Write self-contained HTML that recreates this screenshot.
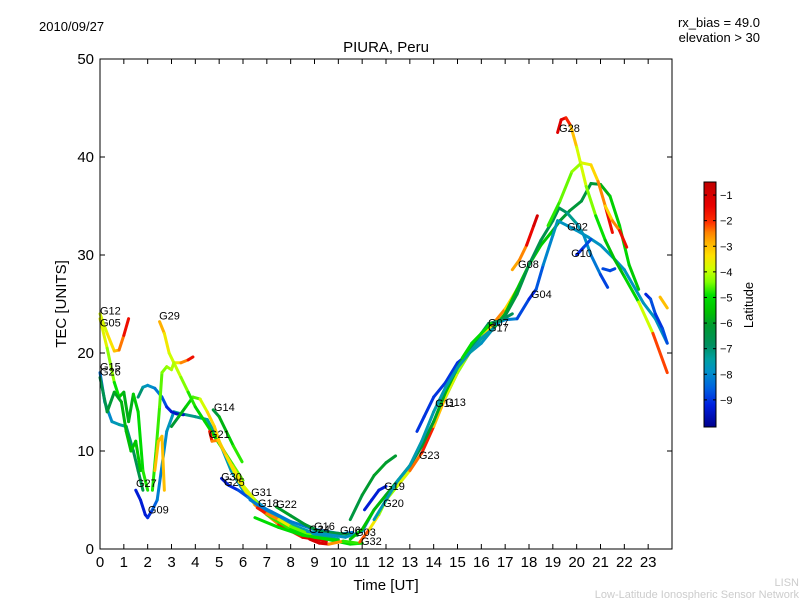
<!DOCTYPE html>
<html><head><meta charset="utf-8"><style>
body{margin:0;background:#fff}
svg text{font-family:"Liberation Sans","DejaVu Sans",sans-serif}
</style></head><body>
<svg id="chart" width="800" height="600" xmlns="http://www.w3.org/2000/svg">
<rect width="800" height="600" fill="#fff"/>
<text x="39" y="31" font-size="13">2010/09/27</text>
<text x="760" y="27" font-size="13" text-anchor="end">rx_bias = 49.0</text>
<text x="760" y="42" font-size="13" text-anchor="end">elevation &gt; 30</text>
<text x="386" y="52" font-size="15" text-anchor="middle">PIURA, Peru</text>
<text x="386" y="590" font-size="15" text-anchor="middle">Time [UT]</text>
<text x="66" y="304" font-size="15" text-anchor="middle" transform="rotate(-90 66 304)">TEC [UNITS]</text>
<text x="799" y="586" font-size="11" fill="#ccc" text-anchor="end">LISN</text>
<text x="799" y="598" font-size="11" fill="#ccc" text-anchor="end">Low-Latitude Ionospheric Sensor Network</text>
<g id="plot"></g>
<g id="axes"></g>
<g id="cbar"></g>
</svg>
<script>
const xTicks=[0,1,2,3,4,5,6,7,8,9,10,11,12,13,14,15,16,17,18,19,20,21,22,23];
const yTicks=[0,10,20,30,40,50];
const cbTicks=[-1,-2,-3,-4,-5,-6,-7,-8,-9];
const trackHours=[
[0,0.3,0.6,0.8,1.0,1.2],
[0,0.3,0.6,0.8,1.0,1.2,1.4,1.6,1.8,2.0],
[0,0.2,0.5,0.8,1.1,1.4,1.6,1.8],
[0,0.3,0.6,0.9,1.1,1.3,1.5,1.7],
[1.5,1.7,1.9,2.0,2.2,2.4,2.6,2.8,3.1,3.4,4.0,4.5,5.0,5.5,6.0,7,8,9,10],
[1.6,1.8,2.0,2.3,2.6,2.8,3.0,3.2,3.5],
[3.0,3.3,3.6,3.9,4.2,4.5,4.8,5.0,5.4,5.8,6.5,7.5,8.5,9.5],
[2.5,2.7,2.9,3.1,3.4,3.7,3.9],
[3.1,3.4,3.7,4.0,4.4,4.8,5.2,5.6,6.0],
[2.2,2.35,2.5,2.6,2.8,3.0,3.1],
[2.3,2.45,2.6,2.7],
[4.75,5.0,5.3,5.6,5.96],
[4.6,4.7,4.95,5.3,5.66,6,6.5,7,8,9,10],
[5.1,5.4,5.8,6.2,6.6,7,8,9,10,10.6],
[6.3,6.7,7.2,8,9,10],
[6.6,7.0,7.5,8,8.8],
[7.4,8,8.6,9.2,10,10.8],
[6.5,7.5,8.5,9.5,10.5,11],
[8.8,9.2,9.6,10.2,10.8],
[8.7,9.5,10.3,11,11.5,12,12.5,13,13.5,14,14.5,15,15.5,16,16.5],
[10.9,11.3,11.7,12,12.5,13,13.5,14,14.5,15,15.5,16,16.5,17,17.5],
[11.1,11.4,11.7,12],
[13.3,13.6,14,14.5,15,15.5],
[10.5,11,11.5,12,12.5,13,13.5,14,14.5,15,15.5,16,16.5,17,17.5,18,18.5,19,19.3,19.7,20.2,20.6,21,21.4,21.8,22.2,22.6],
[10.5,11,11.5,12,12.4],
[16.5,17,17.5,18,18.5,19,19.26,19.6,20,20.3,20.6,21,21.3],
[19.2,19.6,20,20.5,21,21.5,22,22.8,23.3,23.8],
[16.6,17,17.5,18,18.3,18.6,19,19.2],
[17.3,17.6,17.9,18.2,18.35],
[19.2,19.35,19.55,19.75,20,20.4,20.8,21.2,21.6,22,22.6,23.2,23.8],
[18.8,19.3,19.8,20.2,20.6,20.9,21.2,21.5],
[21.2,21.5,21.8,22.1],
[20,20.3,20.6],
[21.1,21.4,21.6],
[22.9,23.1,23.3,23.6,23.8],
[23.5,23.8],
[11.5,12,12.5,13,13.5,14,14.5,15,15.5,16,16.5],
[15.5,16,16.3,16.8,17.3],
[15.2,15.6,16,16.4]
];
const trackTec=[
[24,22,20.2,20.3,21.8,23.5],
[23.5,20.5,17,15.5,16,13,15.8,14,8,6],
[18,15,13,12.7,12.5,10,8,6],
[17.5,14,16,15,12,10,11,8],
[6,5,3.5,3.2,4,5,8.5,12,14,13.8,13.5,13.2,11,8,6,4,2.5,1.5,1],
[15.5,16.5,16.7,16.4,15.5,14.5,14,13.8,13.7],
[12.5,13.5,14.5,15.5,15.3,14,12.5,11,9,7,4.5,2.5,1.2,0.8],
[23.2,22,20,19,19,19.3,19.6],
[19,17.5,16,14.5,13,11.5,10,8.5,7],
[6,10,14.5,18,18.6,18.3,19],
[8,11,11.5,6],
[14.2,13.5,12,10.5,8.9],
[12,11,11.1,9.5,8,6.5,5,3.5,2,1.2,0.9],
[7.2,6.5,6,5.3,4.5,3.8,2.5,1.6,1.5,1.7],
[5,4.4,3.8,2.8,2,1.6],
[4.2,3.6,3,2.3,1.5],
[4.3,3.4,2.5,1.8,1.6,1.4],
[3.2,2.2,1.4,1,0.5,0.6],
[1,0.6,0.5,0.8,0.6],
[1.8,1.5,1.2,1.8,4,5.5,7,8.5,10.5,13,15.5,18,20,21,22.5],
[0.7,2,3.5,5,6.5,8,9.8,12.5,15.5,18,20,21.5,23,24.5,26.5],
[4,5,6,6.4],
[12,13.5,15.5,17,19,20],
[1,2,4,5.5,7,8.5,10.5,13,16,18.5,20.5,21.5,22.5,24,26.5,29,31,32.5,33.5,34.5,35.5,37.3,37.2,36,33,29,26.5],
[3,5.5,7.5,8.8,9.5],
[22.5,23.8,26,29,31.5,33.5,34.8,34.3,33.2,32,30,28,26.7],
[33.5,33,32.5,31.8,31,29.8,28.5,25.1,23.5,21],
[23,23.4,23.5,25.5,26.5,29,32,33.5],
[28.5,29.5,31,33,34],
[42.5,43.8,44,43.2,41,37,34,31.5,29.5,27.8,25.2,22,18],
[33,35.5,38.5,39.4,39.2,37.5,35,32.3],
[35,33.5,32.5,30.8],
[30,30.8,31.6],
[28.6,28.4,28.6],
[26,25.5,24,22.5,21],
[25.7,24.6],
[3,5,7,8.5,11,14,16.5,18.5,20,21.5,22.5],
[20.5,22,23,23.3,24],
[19.5,21,22,23]
];
const trackLat=[
[-4,-3.6,-3.2,-2.8,-2,-1.2],
[-3.4,-4,-4.6,-5.2,-5.6,-6,-5.6,-5,-5,-4.6],
[-8.5,-8.2,-7.8,-7.6,-7.2,-6.8,-6.5,-6.5],
[-6.8,-6.4,-6,-5.8,-5.6,-5.6,-5.4,-5.4],
[-9.3,-9.3,-9.3,-9.3,-8.8,-8.3,-8,-7.9,-7.6,-7.3,-7.1,-7.3,-7.5,-7.7,-7.9,-7.9,-7.7,-7.5,-7.5],
[-6.5,-7.5,-7.8,-8,-8.4,-9,-9.3,-9.5,-9.5],
[-6.3,-6,-5.5,-5,-4.2,-3.5,-3.0,-3.3,-3.6,-4,-3,-2,-1.5,-1],
[-2.5,-3.2,-3.8,-4,-3,-2,-1.3],
[-3.8,-4.2,-4.6,-5.0,-5.3,-5.0,-4.8,-4.6,-4.4],
[-4.8,-4.8,-4.6,-4.5,-4.3,-4.2,-4],
[-3,-3,-3,-3],
[-6.5,-6,-5.5,-5,-4.5],
[-1.5,-2,-3,-3.2,-3.4,-3.5,-4,-4.5,-5,-5,-5],
[-9.5,-9.3,-9,-8.5,-8,-7.8,-7.6,-7.5,-8,-8.5],
[-8.2,-8.2,-8.2,-8.2,-8.2,-8.2],
[-1.5,-2,-3,-4,-5],
[-6,-6,-6.2,-6.3,-6.4,-6.5],
[-5,-5,-5,-5,-5,-5],
[-1,-1,-1.2,-4,-5.5],
[-7.8,-7.8,-7.8,-7.8,-7.8,-7.8,-7.8,-7.8,-7.8,-7.8,-7.8,-7.8,-7.8,-7.8,-7.8],
[-1.5,-3,-4,-4.5,-4,-3.5,-1.2,-2.5,-3.5,-4,-4.5,-4.5,-2,-3,-3.5],
[-9.3,-9.3,-9.3,-9.3],
[-9,-9,-9,-9,-9,-9],
[-5.5,-5.5,-5.5,-5.8,-6,-6.2,-6.2,-6,-5.8,-5.6,-5.5,-5.5,-5.6,-5.5,-5.5,-5.3,-5.2,-5.5,-6,-6.2,-6.3,-6.4,-6,-5.5,-5,-5.2,-5.5],
[-6.5,-6.2,-6,-6,-6.2],
[-6.2,-6.3,-6.4,-6.5,-6.6,-6.5,-6.6,-7,-7.5,-7.8,-8,-8.5,-9.2],
[-7.8,-7.8,-7.8,-7.8,-7.8,-7.8,-7.8,-7.8,-7.8,-7.8],
[-8,-8,-8.3,-9.3,-9,-8.3,-7.8,-7.6],
[-2.5,-3,-2,-1,-1],
[-1.2,-1.2,-1.3,-2.5,-3.5,-4.2,-4.6,-5.2,-5.8,-5.5,-4.8,-3,-1.3],
[-5,-4.5,-4.5,-4,-3.5,-3,-2,-1.2],
[-3.5,-3,-2,-1.2],
[-9.3,-9,-8.5],
[-8.8,-8.8,-8.8],
[-9.3,-9,-8.5,-9.5,-8],
[-3,-3],
[-7.6,-7.6,-7.6,-7.6,-7.6,-7.6,-7.6,-7.6,-7.6,-7.6,-7.6],
[-6.8,-6.8,-6.8,-6.8,-6.8],
[-5,-5,-5,-5]
];
const labelNames=["G12","G05","G15","G26","G29","G14","G21","G27","G09","G30","G25","G31","G18","G22","G24","G16","G06","G03","G32","G19","G20","G23","G11","G13","G07","G17","G08","G04","G02","G10","G28"];
const labelHours=[0,0,0,0,2.48,4.78,4.57,1.51,2.01,5.08,5.2,6.34,6.63,7.39,8.77,8.98,10.07,10.7,10.95,11.92,11.88,13.38,14.06,14.48,16.28,16.28,17.54,18.08,19.6,19.77,19.26];
const labelTec=[24.2,23.0,18.5,18.0,23.7,14.4,11.6,6.6,3.9,7.3,6.7,5.7,4.6,4.5,1.94,2.24,1.84,1.63,0.71,6.33,4.59,9.49,14.8,14.9,23.0,22.5,28.98,25.9,32.8,30.1,42.86];

const NS="http://www.w3.org/2000/svg";
const L=100,R=672,T=59,B=549,xMax=24,yMax=50;
const xs=h=>L+h*(R-L)/xMax;
const ys=v=>B-v*(B-T)/yMax;
const vmin=-10.06,vmax=-0.49;
// colormap stops: [latitude, r, g, b]
const cmapStops=[[-10.06,0,0,140],[-9.2,0,32,224],[-8.56,0,96,224],[-7.9,0,144,200],[-7.4,0,160,160],[-6.87,0,144,96],[-6.1,0,154,48],[-5.57,0,192,0],[-4.92,0,224,0],[-4.4,128,255,0],[-3.88,208,255,0],[-3.36,255,224,0],[-2.84,255,176,0],[-2.45,255,128,0],[-2.06,255,48,0],[-1.42,232,0,0],[-0.49,192,0,0]];
function jet(v){
  v=Math.max(vmin,Math.min(vmax,v));
  for(let k=0;k<cmapStops.length-1;k++){
    const a=cmapStops[k],b=cmapStops[k+1];
    if(v<=b[0]){const t=(v-a[0])/(b[0]-a[0]);
      return `rgb(${Math.round(a[1]+t*(b[1]-a[1]))},${Math.round(a[2]+t*(b[2]-a[2]))},${Math.round(a[3]+t*(b[3]-a[3]))})`;}
  }
  return 'rgb(192,0,0)';
}
function mk(tag,attrs,parent){const e=document.createElementNS(NS,tag);for(const k in attrs)e.setAttribute(k,attrs[k]);parent.appendChild(e);return e;}
const plot=document.getElementById('plot'),axes=document.getElementById('axes'),cb=document.getElementById('cbar');

trackHours.forEach((hs,i)=>{
  const g=mk('g',{},plot);
  
  
  for(let j=0;j<hs.length-1;j++){
    const s=mk('line',{x1:xs(hs[j]),y1:ys(trackTec[i][j]),x2:xs(hs[j+1]),y2:ys(trackTec[i][j+1]),stroke:jet((trackLat[i][j]+trackLat[i][j+1])/2),'stroke-width':3,'stroke-linecap':'round'},g);
    
    
  }
});
labelNames.forEach((n,i)=>{
  const t=mk('text',{x:xs(labelHours[i]),y:ys(labelTec[i]),'font-size':11,'dominant-baseline':'middle'},plot);
  
  
  t.textContent=n;
});
const frame=mk('rect',{x:L,y:T,width:R-L,height:B-T,fill:'none',stroke:'#000','stroke-width':1},axes);


xTicks.forEach(h=>{
  const x=xs(h);
  mk('line',{x1:x,y1:B,x2:x,y2:B-5,stroke:'#000'},axes);
  mk('line',{x1:x,y1:T,x2:x,y2:T+5,stroke:'#000'},axes);
  const t=mk('text',{x:x,y:B+18,'font-size':15,'text-anchor':'middle'},axes);
  
  
  t.textContent=h;
});
yTicks.forEach(v=>{
  const y=ys(v);
  mk('line',{x1:L,y1:y,x2:L+5,y2:y,stroke:'#000'},axes);
  mk('line',{x1:R,y1:y,x2:R-5,y2:y,stroke:'#000'},axes);
  const t=mk('text',{x:L-6,y:y+5,'font-size':15,'text-anchor':'end'},axes);
  
  
  t.textContent=v;
});
const cT=182,cB=427,cL=704,cW=12;
const defs=mk('defs',{},cb);
const lg=mk('linearGradient',{id:'jetg',x1:0,y1:1,x2:0,y2:0},defs);
cmapStops.forEach(s=>{mk('stop',{offset:(s[0]-vmin)/(vmax-vmin),'stop-color':`rgb(${s[1]},${s[2]},${s[3]})`},lg);});
const bar=mk('rect',{x:cL,y:cT,width:cW,height:cB-cT,fill:'url(#jetg)',stroke:'#000','stroke-width':1},cb);


const cy=v=>cB-(v-vmin)/(vmax-vmin)*(cB-cT);
cbTicks.forEach(v=>{
  const y=cy(v);
  mk('line',{x1:cL+cW-3,y1:y,x2:cL+cW,y2:y,stroke:'#000'},cb);
  mk('line',{x1:cL,y1:y,x2:cL+3,y2:y,stroke:'#000'},cb);
  const t=mk('text',{x:cL+cW+4,y:y+4,'font-size':11},cb);
  
  
  t.textContent='\u2212'+Math.abs(v);
});
const cl=mk('text',{x:753,y:305,'font-size':13,'text-anchor':'middle',transform:'rotate(-90 753 305)'},cb);


cl.textContent='Latitude';
</script>
</body></html>
